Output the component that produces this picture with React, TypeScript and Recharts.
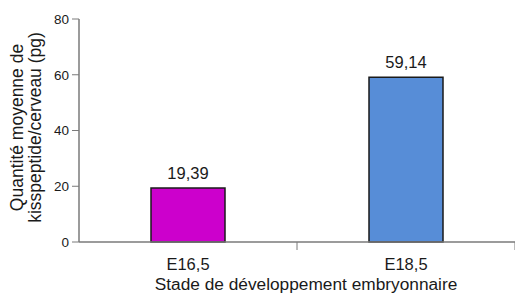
import { BarChart, Bar, XAxis, YAxis, Cell, LabelList } from 'recharts'

const stages = ['E16,5', 'E18,5']
const amounts = [19.39, 59.14]
const barColors = ['#cc00cc', '#578dd7']
const yTicks = [0, 20, 40, 60, 80]

const CHART_W = 515
const CHART_H = 293
const Y_AXIS_W = 79
const FONT = '"Liberation Sans", Arial, sans-serif'

const data = stages.map((stage, i) => ({ stage, value: amounts[i] }))

const fmt = (v: number) => v.toFixed(2).replace('.', ',')

function CategoryTick({ x, y, payload }: any) {
  const half = (CHART_W - Y_AXIS_W) / stages.length / 2
  return (
    <g>
      <line x1={x + half} y1={y} x2={x + half} y2={y + 8} stroke="#7a7a7a" strokeWidth={1} />
      <text x={x} y={y + 28} textAnchor="middle" fontSize={16.5} fill="#1a1a1a" fontFamily={FONT}>
        {payload.value}
      </text>
    </g>
  )
}

function XTitle({ viewBox }: any) {
  const { x, y, width } = viewBox
  return (
    <text x={x + width / 2 + 9} y={y + 48} textAnchor="middle" fontSize={17.3} fill="#1a1a1a" fontFamily={FONT}>
      Stade de développement embryonnaire
    </text>
  )
}

function YTitle({ viewBox }: any) {
  const cy = viewBox.y + viewBox.height / 2 - 3
  const lines = ['Quantité moyenne de', 'kisspeptide/cerveau (pg)']
  return (
    <g>
      {lines.map((line, i) => {
        const bx = 23 + i * 18
        return (
          <text
            key={line}
            x={bx}
            y={cy}
            transform={`rotate(-90, ${bx}, ${cy})`}
            textAnchor="middle"
            fontSize={17.5}
            fill="#1a1a1a"
            fontFamily={FONT}
          >
            {line}
          </text>
        )
      })}
    </g>
  )
}

export default function App() {
  return (
    <div style={{ position: 'absolute', left: 0, top: 0, background: '#fff' }}>
      <BarChart
        width={CHART_W}
        height={CHART_H}
        data={data}
        margin={{ top: 19, right: 0, bottom: 0, left: 0 }}
      >
        <XAxis
          dataKey="stage"
          height={51}
          tickLine={false}
          tickSize={0}
          tickMargin={0}
          axisLine={{ stroke: '#7a7a7a', strokeWidth: 1.5 }}
          tick={<CategoryTick />}
          label={<XTitle />}
        />
        <YAxis
          width={Y_AXIS_W}
          domain={[0, 80]}
          ticks={yTicks}
          interval={0}
          tickSize={7}
          tickMargin={3}
          axisLine={{ stroke: '#7a7a7a', strokeWidth: 1.5 }}
          tickLine={{ stroke: '#7a7a7a', strokeWidth: 1 }}
          tick={{ fill: '#1a1a1a', fontSize: 13.5, fontFamily: FONT }}
          label={<YTitle />}
        />
        <Bar dataKey="value" barSize={74} stroke="#1a1a1a" strokeWidth={1.5} isAnimationActive={false}>
          {data.map((d, i) => (
            <Cell key={d.stage} fill={barColors[i]} />
          ))}
          <LabelList
            dataKey="value"
            position="top"
            offset={9}
            formatter={(v: any) => fmt(Number(v))}
            style={{ fill: '#1a1a1a', fontSize: 16.5, fontFamily: FONT }}
          />
        </Bar>
      </BarChart>
    </div>
  )
}
